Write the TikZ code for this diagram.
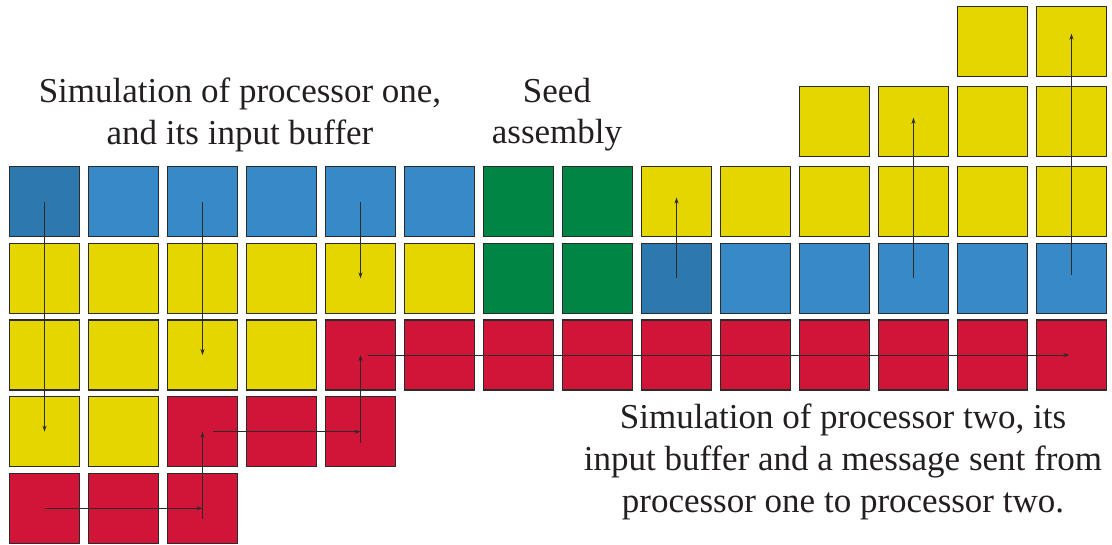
\documentclass[tikz,border=0pt]{standalone}
\usepackage{fontspec}
\setmainfont{Liberation Serif}
\usetikzlibrary{arrows.meta}
\definecolor{dblue}{HTML}{2E78B0}
\definecolor{lblue}{HTML}{3789C8}
\definecolor{sgreen}{HTML}{008545}
\definecolor{syellow}{HTML}{E5D600}
\definecolor{sred}{HTML}{D11538}
\definecolor{edge}{HTML}{2B2B2B}
\definecolor{txt}{HTML}{231F20}
\tikzset{
  tile/.style={rectangle, draw=edge, line width=1.1pt, inner sep=0pt, minimum width=70pt, minimum height=70pt},
  arr/.style={draw=edge, line width=0.9pt, -{Stealth[length=6pt,width=4pt]}},
  lbl/.style={anchor=base, inner sep=0pt, text=txt, font=\fontsize{35}{42}\selectfont}
}
\newcommand\tilerow[4]{%
  \foreach \c in {#2,...,#3}{%
    \pgfmathsetmacro\ry{{41.7,121.7,201.5,278.3,355,431.7,508.3}[#1]}%
    \node[tile,fill=#4] (t#1-\c) at ({44.5+79*\c},\ry) {};
  }%
}
\begin{document}
\begin{tikzpicture}[x=1pt,y=-1pt]
\useasboundingbox (0,0) rectangle (1112,544);
% tiles
\tilerow{0}{12}{13}{syellow}
\tilerow{1}{10}{13}{syellow}
\tilerow{2}{0}{0}{dblue}
\tilerow{2}{1}{5}{lblue}
\tilerow{2}{6}{7}{sgreen}
\tilerow{2}{8}{13}{syellow}
\tilerow{3}{0}{5}{syellow}
\tilerow{3}{6}{7}{sgreen}
\tilerow{3}{8}{8}{dblue}
\tilerow{3}{9}{13}{lblue}
\tilerow{4}{0}{3}{syellow}
\tilerow{4}{4}{13}{sred}
\tilerow{5}{0}{1}{syellow}
\tilerow{5}{2}{4}{sred}
\tilerow{6}{0}{2}{sred}
% arrows: processor one
\draw[arr] (t2-0.center) -- (t5-0.center);
\draw[arr] (t2-2.center) -- (t4-2.center);
\draw[arr] (t2-4.center) -- (t3-4.center);
% message path
\draw[arr] (t6-0.center) -- (t6-2.center);
\draw[arr] ([yshift=-11pt]t6-2.center) -- (t5-2.center);
\draw[arr] ([xshift=10pt]t5-2.center) -- (t5-4.center);
\draw[arr] ([yshift=-11pt]t5-4.center) -- (t4-4.center);
\draw[arr] ([xshift=7pt]t4-4.center) -- ([xshift=-2pt]t4-13.center);
% processor two
\draw[arr] (t3-8.center) -- ([yshift=4pt]t2-8.center);
\draw[arr] (t3-11.center) -- ([yshift=4pt]t1-11.center);
\draw[arr] ([yshift=3pt]t3-13.center) -- ([yshift=8pt]t0-13.center);
% labels
\node[lbl] (l1a) at (240,102) {Simulation of processor one,};
\node[lbl] (l1b) at (240,144) {and its input buffer};
\node[lbl] (l2a) at (557,102) {Seed};
\node[lbl] (l2b) at (557,143) {assembly};
\node[lbl] (l3a) at (843,428) {Simulation of processor two, its};
\node[lbl] (l3b) at (843,470) {input buffer and a message sent from};
\node[lbl] (l3c) at (843,512) {processor one to processor two.};
\end{tikzpicture}
\end{document}
